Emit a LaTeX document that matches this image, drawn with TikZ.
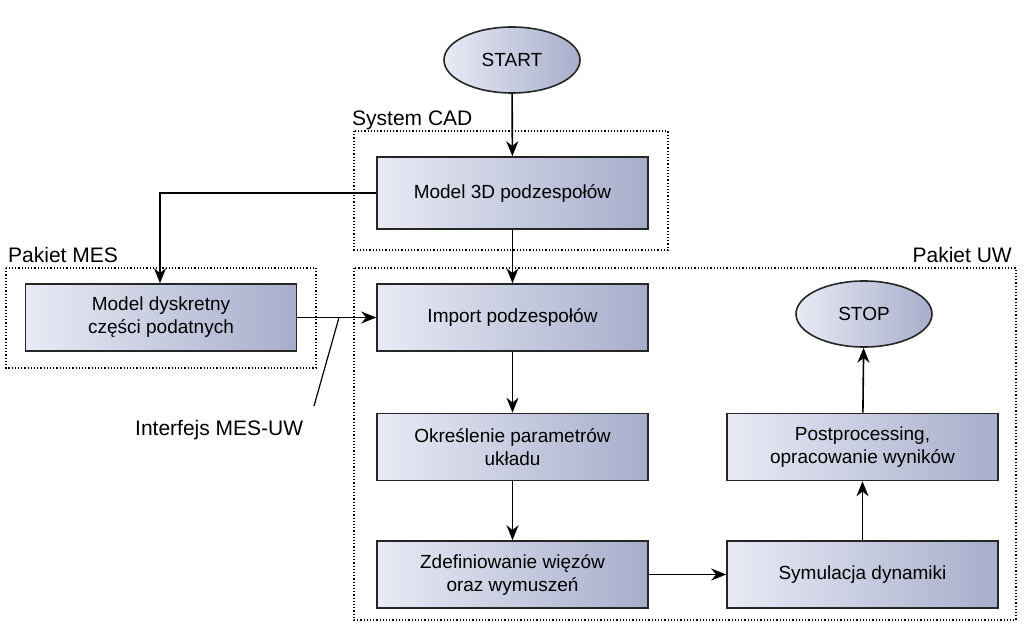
\documentclass[tikz,border=0pt]{standalone}
\usepackage{fontspec}
\setmainfont{Liberation Sans}
\usetikzlibrary{arrows.meta,shapes.geometric}
\definecolor{lt}{HTML}{E8EAF5}
\definecolor{dk}{HTML}{A7AECB}
\begin{document}
\begin{tikzpicture}[x=1pt,y=-1pt,
  box/.style={draw=black!85,line width=1.6pt,left color=lt,right color=dk,minimum width=271pt,minimum height=67pt,align=center,font=\fontsize{19}{23}\selectfont,inner sep=0pt},
  oval/.style={ellipse,draw=black!85,line width=1.6pt,left color=lt,right color=dk,minimum width=136pt,minimum height=66pt,font=\fontsize{19}{23}\selectfont,inner sep=0pt},
  grp/.style={draw,dotted,line width=1.2pt},
  lbl/.style={font=\fontsize{21}{25}\selectfont,inner sep=0pt},
  arr/.style={-{Stealth[length=15pt,width=12pt]},line width=1.6pt}]
\useasboundingbox (0,0) rectangle (1024,634);
\draw[grp] (354,131) rectangle (668,250);
\draw[grp] (6,268) rectangle (316,368);
\draw[grp] (354,268) rectangle (1016,620);
\node[lbl,anchor=base west] (lcad) at (352,125) {System CAD};
\node[lbl,anchor=base west] (lmes) at (8,262) {Pakiet MES};
\node[lbl,anchor=base east] (luw) at (1012,262) {Pakiet UW};
\node[lbl,anchor=base west] (lint) at (135,435) {Interfejs MES-UW};
\node[oval] (start) at (512,60) {START};
\node[box,minimum height=72pt] (m3d) at (512.5,193) {Model 3D podzespołów};
\node[box] (mdys) at (161,317.5) {Model dyskretny\\części podatnych};
\node[box] (imp) at (512.5,317.5) {Import podzespołów};
\node[oval] (stop) at (864,314) {STOP};
\node[box] (okr) at (512.5,447) {Określenie parametrów\\układu};
\node[box] (post) at (862.5,447) {Postprocessing,\\opracowanie wyników};
\node[box] (zdef) at (512.5,574.5) {Zdefiniowanie więzów\\oraz wymuszeń};
\node[box] (sym) at (862.5,574.5) {Symulacja dynamiki};
\coordinate (c1) at (160,193);
\coordinate (ip) at (339,317.5);
\coordinate (ie) at (314,406);
\draw[arr] (start) -- (m3d);
\draw[arr] (m3d) -- (imp);
\draw[arr] (m3d.west) -- (c1) -- (mdys.north -| c1);
\draw[arr] (mdys) -- (imp);
\draw[line width=1.2pt] (ie) -- (ip);
\draw[arr] (imp) -- (okr);
\draw[arr] (okr) -- (zdef);
\draw[arr] (zdef) -- (sym);
\draw[arr] (sym) -- (post);
\draw[arr] (post) -- (stop);
\end{tikzpicture}
\end{document}
